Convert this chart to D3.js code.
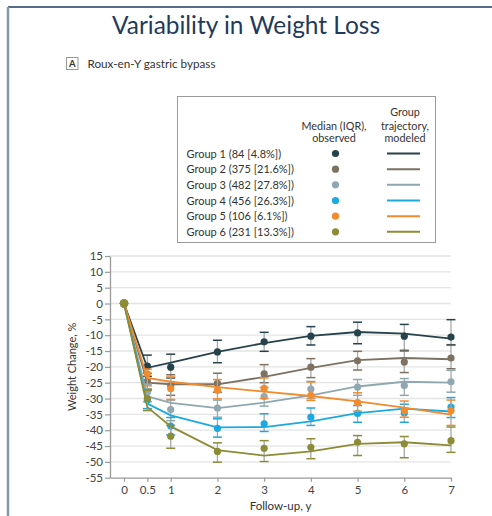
<!DOCTYPE html>
<html><head><meta charset="utf-8">
<script src="https://cdn.jsdelivr.net/npm/d3@7"></script>
<style>
html,body{margin:0;padding:0;background:#fff;}
svg{display:block;font-family:Lato, "Open Sans", sans-serif;}
</style></head>
<body><svg id="c" width="492" height="516"></svg>
<script>
const years = [0, 0.5, 1, 2, 3, 4, 5, 6, 7];
const xTicks = [0, 0.5, 1, 2, 3, 4, 5, 6, 7];
const yTicks = [15, 10, 5, 0, -5, -10, -15, -20, -25, -30, -35, -40, -45, -50, -55];
const groupLabels = ["Group 1 (84 [4.8%])", "Group 2 (375 [21.6%])", "Group 3 (482 [27.8%])",
  "Group 4 (456 [26.3%])", "Group 5 (106 [6.1%])", "Group 6 (231 [13.3%])"];
const colors = ["#26434b", "#7d7262", "#8ea7b0", "#1aa9e1", "#f28a2e", "#8c8b36"];

// observed medians
const obsG1 = [0, -19.8, -20.1, -15.3, -12.1, -10.3, -9.3, -10.3, -10.6];
const obsG2 = [0, -24.5, -26.0, -25.2, -22.2, -20.1, -18.1, -18.5, -17.2];
const obsG3 = [0, -28.0, -33.5, -33.0, -29.4, -27.0, -26.4, -25.9, -24.7];
const obsG4 = [0, -30.5, -38.7, -39.4, -38.0, -35.9, -34.7, -34.6, -32.7];
const obsG5 = [0, -22.2, -26.9, -27.4, -26.8, -29.0, -31.3, -33.8, -33.8];
const obsG6 = [0, -30.0, -41.9, -46.7, -45.7, -45.4, -43.8, -44.3, -43.3];
// IQR upper bounds (less weight loss)
const hiG1 = [0, -16.3, -16.0, -11.6, -9.1, -7.3, -5.9, -6.6, -5.1];
const hiG2 = [0, -22.0, -22.5, -22.0, -19.3, -17.4, -15.1, -15.0, -13.2];
const hiG3 = [0, -25.5, -30.5, -30.5, -26.5, -24.6, -24.0, -23.7, -21.1];
const hiG4 = [0, -27.2, -36.0, -36.4, -34.8, -33.0, -32.2, -31.8, -29.7];
const hiG5 = [0, -20.7, -23.2, -24.0, -23.5, -24.8, -28.2, -30.8, -30.5];
const hiG6 = [0, -27.5, -38.5, -44.0, -43.3, -42.7, -41.7, -42.0, -39.0];
// IQR lower bounds (more weight loss)
const loG1 = [0, -23.0, -23.5, -18.7, -15.1, -13.1, -12.7, -14.8, -13.0];
const loG2 = [0, -27.0, -29.0, -28.0, -25.0, -23.4, -21.0, -21.8, -20.6];
const loG3 = [0, -31.0, -37.0, -35.9, -32.4, -30.0, -29.0, -29.0, -28.0];
const loG4 = [0, -33.2, -41.5, -42.2, -40.4, -38.5, -37.5, -37.5, -36.0];
const loG5 = [0, -26.0, -30.3, -30.1, -30.0, -30.6, -34.0, -35.9, -38.5];
const loG6 = [0, -33.8, -45.7, -50.1, -49.9, -49.0, -48.0, -48.7, -47.0];
// modeled trajectories
const modG1 = [0, -20.3, -18.7, -15.3, -12.5, -10.2, -9.0, -9.5, -11.1];
const modG2 = [0, -25.0, -25.5, -25.5, -23.2, -20.3, -17.9, -17.2, -17.6];
const modG3 = [0, -29.3, -31.4, -33.0, -31.3, -29.0, -26.2, -24.7, -25.0];
const modG4 = [0, -31.6, -35.3, -39.1, -39.0, -37.2, -34.6, -33.2, -34.1];
const modG5 = [0, -23.5, -24.7, -26.4, -27.8, -29.2, -30.9, -32.9, -35.1];
const modG6 = [0, -32.7, -38.8, -46.3, -48.0, -46.7, -44.3, -43.8, -44.8];

const obs = [obsG1, obsG2, obsG3, obsG4, obsG5, obsG6];
const his = [hiG1, hiG2, hiG3, hiG4, hiG5, hiG6];
const los = [loG1, loG2, loG3, loG4, loG5, loG6];
const mods = [modG1, modG2, modG3, modG4, modG5, modG6];

const svg = d3.select("#c");

// slide frame
svg.append("line").attr("x1", 8).attr("x2", 492).attr("y1", 7).attr("y2", 7)
  .attr("stroke", "#1f3b5c").attr("stroke-width", 1.5);
svg.append("line").attr("x1", 8).attr("x2", 8).attr("y1", 7).attr("y2", 516)
  .attr("stroke", "#8497b0").attr("stroke-width", 2.5);

svg.append("text").attr("x", 246).attr("y", 34).attr("text-anchor", "middle")
  .attr("font-family", "Lato, 'Open Sans', sans-serif").attr("font-size", 25)
  .attr("fill", "#1f3b5c").attr("textLength", 268).attr("lengthAdjust", "spacingAndGlyphs")
  .text("Variability in Weight Loss");

// panel label
svg.append("rect").attr("x", 66.5).attr("y", 57.5).attr("width", 11.5).attr("height", 12)
  .attr("fill", "#fff").attr("stroke", "#999").attr("stroke-width", 1);
svg.append("text").attr("x", 72.2).attr("y", 67.2).attr("text-anchor", "middle")
  .attr("font-size", 9.5).attr("font-weight", "bold").attr("fill", "#333").text("A");
svg.append("text").attr("x", 87.5).attr("y", 67.8).attr("font-size", 11).attr("fill", "#333")
  .attr("textLength", 128).attr("lengthAdjust", "spacingAndGlyphs")
  .text("Roux-en-Y gastric bypass");

// scales
const x = d3.scaleLinear().domain([-0.3, 7]).range([110, 451]);
const y = d3.scaleLinear().domain([-55, 15]).range([477.7, 256]);

// grid
svg.append("g").selectAll("line").data(yTicks.filter(d => d > -55)).join("line")
  .attr("x1", x(-0.3)).attr("x2", x(7)).attr("y1", d => y(d)).attr("y2", d => y(d))
  .attr("stroke", "#e4e4e4").attr("stroke-width", 1.3);

// axes
const yAxis = svg.append("g").attr("transform", `translate(${x(-0.3)},0)`)
  .call(d3.axisLeft(y).tickValues(yTicks).tickFormat(d => String(d)).tickSize(5).tickSizeOuter(0).tickPadding(2));
const xAxis = svg.append("g").attr("transform", `translate(0,${y(-55)})`)
  .call(d3.axisBottom(x).tickValues(xTicks).tickFormat(d => String(d)).tickSize(4).tickSizeOuter(0).tickPadding(4));
[yAxis, xAxis].forEach(a => {
  a.select(".domain").attr("stroke", "#9a9a9a").attr("stroke-width", 1.3);
  a.selectAll(".tick line").attr("stroke", "#9a9a9a").attr("stroke-width", 1.2);
  a.selectAll("text").attr("fill", "#444").attr("font-size", 11.5).attr("font-family", "Lato, sans-serif");
});

svg.append("text").attr("transform", `translate(76,${(y(15) + y(-55)) / 2}) rotate(-90)`)
  .attr("text-anchor", "middle").attr("font-size", 11).attr("fill", "#333").text("Weight Change, %");
svg.append("text").attr("x", (x(-0.3) + x(7)) / 2).attr("y", 510).attr("text-anchor", "middle")
  .attr("font-size", 11.5).attr("fill", "#333").text("Follow-up, y");

// data marks
const line = d3.line().x((d, i) => x(years[i])).y(d => y(d));
const plot = svg.append("g");
for (let g = 0; g < 6; g++) {
  const gg = plot.append("g");
  const idx = years.map((v, i) => i).filter(i => years[i] > 0);
  gg.selectAll("line.eb").data(idx).join("line").attr("class", "eb")
    .attr("x1", i => x(years[i])).attr("x2", i => x(years[i]))
    .attr("y1", i => y(his[g][i])).attr("y2", i => y(los[g][i]))
    .attr("stroke", "#a8a8a8").attr("stroke-width", 1.3);
  [his[g], los[g]].forEach((arr, k) => {
    gg.selectAll("line.cap" + k).data(idx).join("line").attr("class", "cap" + k)
      .attr("x1", i => x(years[i]) - 4.5).attr("x2", i => x(years[i]) + 4.5)
      .attr("y1", i => y(arr[i])).attr("y2", i => y(arr[i]))
      .attr("stroke", colors[g]).attr("stroke-width", 1.5);
  });
  gg.append("path").datum(mods[g]).attr("d", line).attr("fill", "none")
    .attr("stroke", colors[g]).attr("stroke-width", 1.8);
  gg.selectAll("circle").data(obs[g]).join("circle")
    .attr("cx", (d, i) => x(years[i])).attr("cy", d => y(d))
    .attr("r", (d, i) => years[i] === 0 ? 4.2 : 3.6).attr("fill", colors[g]);
}

// legend
const lg = svg.append("g");
lg.append("rect").attr("x", 177.5).attr("y", 96.5).attr("width", 258).attr("height", 146)
  .attr("fill", "#fff").attr("stroke", "#9a9a9a").attr("stroke-width", 1);
const hdr = [["Median (IQR),", 334, 130], ["observed", 334, 142], ["Group", 405, 116], ["trajectory,", 405, 130], ["modeled", 405, 142]];
lg.selectAll("text.h").data(hdr).join("text").attr("class", "h")
  .attr("x", d => d[1]).attr("y", d => d[2]).attr("text-anchor", "middle")
  .attr("font-size", 10.8).attr("fill", "#333").text(d => d[0]);
const rowY = i => 153.5 + i * 15.67;
lg.selectAll("text.g").data(groupLabels).join("text").attr("class", "g")
  .attr("x", 186.5).attr("y", (d, i) => rowY(i) + 4).attr("font-size", 11).attr("fill", "#333").text(d => d);
lg.selectAll("circle").data(colors).join("circle")
  .attr("cx", 335.5).attr("cy", (d, i) => rowY(i)).attr("r", 3.6).attr("fill", d => d);
lg.selectAll("line").data(colors).join("line")
  .attr("x1", 387).attr("x2", 420).attr("y1", (d, i) => rowY(i)).attr("y2", (d, i) => rowY(i))
  .attr("stroke", d => d).attr("stroke-width", 2);
</script></body></html>
